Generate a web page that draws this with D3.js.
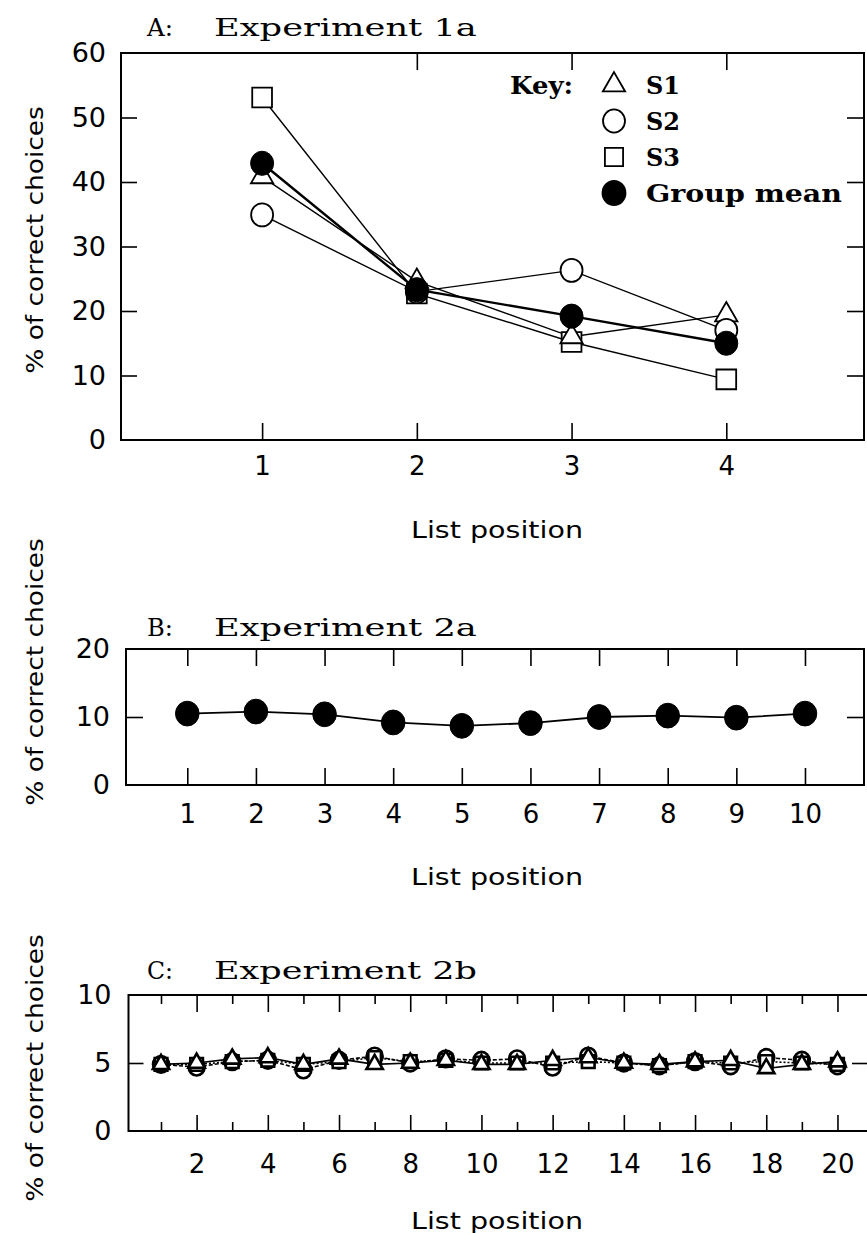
<!DOCTYPE html>
<html>
<head>
<meta charset="utf-8">
<script src="https://cdn.jsdelivr.net/npm/d3@7"></script>
<style>
    body { margin: 0; background: #fff; }
</style>
</head>
<body>
<div id="chart"></div>
<script>
// ---- panel A: Experiment 1a ----
var posA = [1, 2, 3, 4];
var s1A = [40.8, 24.6, 16.0, 19.4];
var s2A = [34.9, 23.0, 26.3, 17.0];
var s3A = [53.1, 22.7, 15.2, 9.4];
var meanA = [42.9, 23.3, 19.2, 15.0];
var yTicksA = [0, 10, 20, 30, 40, 50, 60];
var topTicksA = [2, 3, 4];

// ---- panel B: Experiment 2a (group mean only) ----
var posB = [1, 2, 3, 4, 5, 6, 7, 8, 9, 10];
var meanB = [10.5, 10.8, 10.4, 9.2, 8.7, 9.1, 10.0, 10.2, 9.9, 10.5];
var yTicksB = [0, 10, 20];

// ---- panel C: Experiment 2b ----
var posC = [1, 2, 3, 4, 5, 6, 7, 8, 9, 10, 11, 12, 13, 14, 15, 16, 17, 18, 19, 20];
var s1C = [4.9, 5.0, 5.3, 5.4, 4.9, 5.3, 4.9, 5.0, 5.2, 4.9, 4.9, 5.2, 5.4, 5.0, 4.9, 5.1, 5.2, 4.6, 4.9, 5.1];
var s2C = [4.9, 4.7, 5.1, 5.2, 4.5, 5.2, 5.5, 5.0, 5.3, 5.2, 5.3, 4.7, 5.5, 5.0, 4.8, 5.1, 4.8, 5.4, 5.2, 4.8];
var s3C = [4.9, 4.9, 5.1, 5.2, 4.9, 5.1, 5.4, 5.1, 5.2, 5.0, 5.0, 5.0, 5.1, 5.0, 4.8, 5.1, 5.0, 5.1, 5.0, 4.9];
var majorC = [2, 4, 6, 8, 10, 12, 14, 16, 18, 20];
var minorC = [1, 3, 5, 7, 9, 11, 13, 15, 17, 19];
var yTicksC = [0, 5, 10];

var yTitle = "% of correct choices";
var xTitle = "List position";
var legendNames = ["S1", "S2", "S3", "Group mean"];

var sansFont = "'DejaVu Sans', sans-serif";
var serifFont = "'DejaVu Serif', serif";

var svg = d3.select("#chart")
    .append("svg")
    .attr("width", 867)
    .attr("height", 1233);

// text stretched sideways to a given width (the scan uses a wide typeface)
function wideText(x, y, str, target, size, font, opts) {
    opts = opts || {};
    var t = svg.append("text")
        .attr("text-anchor", opts.anchor || "start")
        .style("font-family", font)
        .style("font-size", size + "px")
        .style("font-weight", opts.bold ? "bold" : "normal")
        .text(str);
    var k = target / t.node().getComputedTextLength();
    t.attr("transform", "translate(" + x + "," + y + ")" + (opts.rotate ? " rotate(" + opts.rotate + ")" : "") + " scale(" + k + ",1)");
    return t;
}

function frame(x, y) {
    svg.append("rect")
        .attr("x", x.range()[0])
        .attr("y", y.range()[1])
        .attr("width", x.range()[1] - x.range()[0])
        .attr("height", y.range()[0] - y.range()[1])
        .attr("fill", "none")
        .attr("stroke", "#000")
        .attr("stroke-width", 2);
}

function styleAxis(g, size) {
    g.select(".domain").remove();
    g.selectAll("line").attr("stroke", "#000").attr("stroke-width", 1.6);
    g.selectAll("text")
        .attr("fill", "#000")
        .style("font-family", sansFont)
        .style("font-size", size + "px");
}

function axes(x, y, o) {
    // bottom ticks point up into the box
    (o.bottom || [{ values: o.xTicks, len: 17 }]).forEach(function (b) {
        svg.append("g")
            .attr("transform", "translate(0," + y.range()[0] + ")")
            .call(d3.axisBottom(x).tickValues(b.values).tickSize(-b.len)
                .tickPadding(o.xPad).tickFormat(b.label === false ? "" : d3.format("d")))
            .call(styleAxis, 26);
    });
    (o.top || [{ values: o.xTicks, len: 17 }]).forEach(function (b) {
        svg.append("g")
            .attr("transform", "translate(0," + y.range()[1] + ")")
            .call(d3.axisTop(x).tickValues(b.values).tickSize(-b.len).tickFormat(""))
            .call(styleAxis, 26);
    });
    svg.append("g")
        .attr("transform", "translate(" + x.range()[0] + ",0)")
        .call(d3.axisLeft(y).tickValues(o.yTicks).tickSize(-o.yLen).tickPadding(o.yPad))
        .call(styleAxis, 27);
    svg.append("g")
        .attr("transform", "translate(" + x.range()[1] + ",0)")
        .call(d3.axisRight(y).tickValues(o.yTicks).tickSize(-o.yLenR).tickFormat(""))
        .call(styleAxis, 27);
}

function titles(letter, name, baseY, xLabelY, yLabelCy) {
    wideText(147, baseY, letter + ":", 26, 25, serifFont);
    wideText(214, baseY, name, 263, 25, serifFont);
    wideText(497, xLabelY, xTitle, 172, 23, sansFont, { anchor: "middle" });
    wideText(43, yLabelCy, yTitle, 268, 23, sansFont, { anchor: "middle", rotate: -90 });
}

function seriesLine(xs, ys, x, y, width, dash) {
    svg.append("path")
        .datum(xs.map(function (d, i) { return [d, ys[i]]; }))
        .attr("fill", "none")
        .attr("stroke", "#000")
        .attr("stroke-width", width)
        .attr("stroke-dasharray", dash || null)
        .attr("d", d3.line()
            .x(function (d) { return x(d[0]); })
            .y(function (d) { return y(d[1]); }));
}

function markers(xs, ys, x, y, shape, size, filled, sw) {
    var pts = xs.map(function (d, i) { return [d, ys[i]]; });
    var sel;
    if (shape === "circle") {
        sel = svg.append("g").selectAll("ellipse").data(pts).enter()
            .append("ellipse")
            .attr("cx", function (d) { return x(d[0]); })
            .attr("cy", function (d) { return y(d[1]); })
            .attr("rx", size)
            .attr("ry", size * 1.05);
    } else {
        var sym = d3.symbol()
            .type(shape === "triangle" ? d3.symbolTriangle : d3.symbolSquare)
            .size(size);
        sel = svg.append("g").selectAll("path").data(pts).enter()
            .append("path")
            .attr("transform", function (d) { return "translate(" + x(d[0]) + "," + y(d[1]) + ")"; })
            .attr("d", sym);
    }
    sel.attr("fill", filled ? "#000" : "#fff")
        .attr("stroke", "#000")
        .attr("stroke-width", sw);
}

// ================= panel A =================
var xA = d3.scaleLinear().domain([0.088, 4.89]).range([121, 864]);
var yA = d3.scaleLinear().domain([0, 60]).range([440, 53]);
frame(xA, yA);
axes(xA, yA, {
    xTicks: posA, xPad: 17, yTicks: yTicksA.slice(1, 6), yLen: 16, yLenR: 17, yPad: 15,
    top: [{ values: topTicksA, len: 17 }]
});
// y labels at the box edges (0 and 60)
svg.append("g")
    .attr("transform", "translate(121,0)")
    .call(d3.axisLeft(yA).tickValues([yTicksA[0], yTicksA[6]]).tickSize(0).tickPadding(15))
    .call(styleAxis, 27);
titles("A", "Experiment 1a", 36, 538, 240);

seriesLine(posA, s1A, xA, yA, 1.4);
seriesLine(posA, s2A, xA, yA, 1.4);
seriesLine(posA, s3A, xA, yA, 1.4);
seriesLine(posA, meanA, xA, yA, 2.4);
markers(posA, s3A, xA, yA, "square", 390, false, 1.8);
markers(posA, s1A, xA, yA, "triangle", 215, false, 1.8);
markers(posA, s2A, xA, yA, "circle", 11, false, 1.8);
markers(posA, meanA, xA, yA, "circle", 11.5, true, 1);

// legend
var legY = d3.scalePoint().domain(legendNames).range([85, 193]);
wideText(510, legY("S1") + 9, "Key:", 63, 25, serifFont, { bold: true });
var legShapes = [["triangle", 215, false], ["circle", 11, false], ["square", 330, false], ["circle", 11.5, true]];
legendNames.forEach(function (n, i) {
    var s = legShapes[i];
    var cy = legY(n);
    if (s[0] === "circle") {
        svg.append("ellipse").attr("cx", 614).attr("cy", cy).attr("rx", s[1]).attr("ry", s[1] * 1.05)
            .attr("fill", s[2] ? "#000" : "#fff").attr("stroke", "#000").attr("stroke-width", 1.8);
    } else {
        svg.append("path")
            .attr("transform", "translate(614," + cy + ")")
            .attr("d", d3.symbol().type(s[0] === "triangle" ? d3.symbolTriangle : d3.symbolSquare).size(s[1]))
            .attr("fill", "#fff").attr("stroke", "#000").attr("stroke-width", 1.8);
    }
    wideText(646, cy + 9, n, n.length > 2 ? 196 : 34, 25, serifFont, { bold: true });
});

// ================= panel B =================
var xB = d3.scaleLinear().domain([0.107, 10.86]).range([126, 864]);
var yB = d3.scaleLinear().domain([0, 20]).range([785, 649]);
frame(xB, yB);
axes(xB, yB, {
    xTicks: posB, xPad: 20, yTicks: [yTicksB[1]], yLen: 17, yLenR: 17, yPad: 16
});
svg.append("g")
    .attr("transform", "translate(126,0)")
    .call(d3.axisLeft(yB).tickValues([yTicksB[0], yTicksB[2]]).tickSize(0).tickPadding(16))
    .call(styleAxis, 27);
titles("B", "Experiment 2a", 636, 885, 672);
seriesLine(posB, meanB, xB, yB, 1.8);
markers(posB, meanB, xB, yB, "circle", 11.8, true, 1);

// ================= panel C =================
var xC = d3.scaleLinear().domain([0.087, 20.97]).range([128.5, 872]);
var yC = d3.scaleLinear().domain([0, 10]).range([1131, 995]);
frame(xC, yC);
axes(xC, yC, {
    xPad: 24, yTicks: [yTicksC[1]], yLen: 15, yLenR: 20, yPad: 17,
    bottom: [{ values: minorC, len: 9, label: false }, { values: majorC, len: 16 }],
    top: [{ values: minorC, len: 9 }, { values: majorC, len: 17 }]
});
svg.append("g")
    .attr("transform", "translate(128.5,0)")
    .call(d3.axisLeft(yC).tickValues([yTicksC[0], yTicksC[2]]).tickSize(0).tickPadding(17))
    .call(styleAxis, 27);
titles("C", "Experiment 2b", 979, 1229, 1068);
seriesLine(posC, s1C, xC, yC, 1.6);
seriesLine(posC, s2C, xC, yC, 1.6, "4,2");
seriesLine(posC, s3C, xC, yC, 1.6, "2,2");
markers(posC, s2C, xC, yC, "circle", 8, false, 2.6);
markers(posC, s3C, xC, yC, "square", 160, false, 2.6);
markers(posC, s1C, xC, yC, "triangle", 115, false, 2.6);
</script>
</body>
</html>
